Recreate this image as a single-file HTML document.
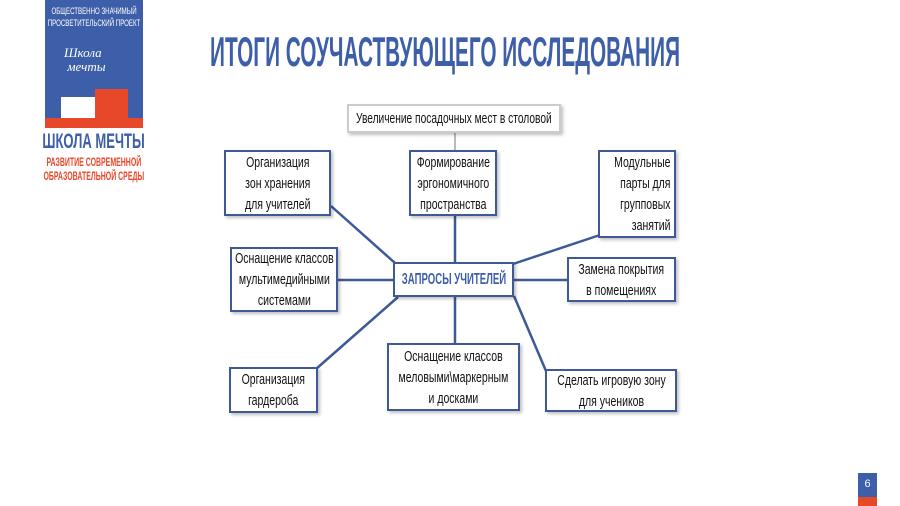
<!DOCTYPE html>
<html><head><meta charset="utf-8"><style>
*{margin:0;padding:0;box-sizing:border-box}
body{width:900px;height:506px;background:#fff;position:relative;overflow:hidden;font-family:"Liberation Sans Narrow","Liberation Sans",sans-serif}
.a{position:absolute}
.c{display:flex;justify-content:center}
.box{position:absolute;border:2px solid #3d5a96;background:#fff;box-shadow:2px 2px 3px rgba(0,0,0,.25);display:flex;align-items:center;justify-content:center;text-align:center;font-size:15px;line-height:21px;color:#111}
.t{display:inline-block;transform:scaleX(.7);white-space:nowrap;flex:none}
</style></head><body>
<div class="a" style="left:45px;top:0;width:98px;height:128px;background:#3d5ea8"></div>
<div class="a" style="left:45px;top:118px;width:98px;height:10px;background:#e8482a"></div>
<div class="a" style="left:61px;top:97px;width:34px;height:21px;background:#fff"></div>
<div class="a" style="left:95px;top:89px;width:33px;height:29px;background:#e8482a"></div>
<div class="a c" style="left:45px;top:5px;width:98px;text-align:center;color:#fff;font-size:9px;line-height:12px"><span class="t" style="transform:scaleX(.68)">ОБЩЕСТВЕННО ЗНАЧИМЫЙ<br>ПРОСВЕТИТЕЛЬСКИЙ ПРОЕКТ</span></div>
<div class="a" style="left:64px;top:46px;color:#fff;font-size:13px;font-style:italic;line-height:14px;font-family:'Liberation Serif',serif">Школа<br>&nbsp;мечты</div>
<div class="a c" style="left:35px;top:131px;width:118px;color:#3d5ea8;font-size:21px;font-weight:bold;line-height:22px;text-align:center"><span class="t" style="transform:scaleX(.62)">ШКОЛА МЕЧТЫ</span></div>
<div class="a c" style="left:34px;top:155px;width:120px;color:#e8482a;font-size:12px;font-weight:bold;line-height:14px;text-align:center"><span class="t" style="transform:scaleX(.58)">РАЗВИТИЕ СОВРЕМЕННОЙ<br>ОБРАЗОВАТЕЛЬНОЙ СРЕДЫ</span></div>
<div class="a" style="left:210px;top:31px;height:42px;color:#3d5ea8;font-size:42px;font-weight:bold;line-height:42px;white-space:nowrap;transform-origin:0 0;transform:scaleX(.495)">ИТОГИ СОУЧАСТВУЮЩЕГО ИССЛЕДОВАНИЯ</div>
<svg class="a" style="left:0;top:0" width="900" height="506">
<line x1="455" y1="133" x2="455" y2="150" stroke="#bbb" stroke-width="2"/>
<g stroke="#3d5a96" stroke-width="2.5">
<line x1="455" y1="216" x2="455" y2="262"/>
<line x1="331" y1="206" x2="395" y2="263"/>
<line x1="338" y1="280" x2="393" y2="280"/>
<line x1="316" y1="369" x2="398" y2="297"/>
<line x1="455" y1="297" x2="455" y2="343"/>
<line x1="514" y1="296" x2="546" y2="371"/>
<line x1="514" y1="280" x2="567" y2="280"/>
<line x1="513" y1="264" x2="600" y2="235"/>
</g></svg>
<div class="box" style="left:347px;top:104px;width:214px;height:29px;border-color:#ccc"><span class="t" style="transform:scaleX(.68)">Увеличение посадочных мест в столовой</span></div>
<div class="box" style="left:409px;top:150px;width:88px;height:66px"><span class="t">Формирование<br>эргономичного<br>пространства</span></div>
<div class="box" style="left:224px;top:150px;width:107px;height:66px"><span class="t">Организация<br>зон хранения<br>для учителей</span></div>
<div class="box" style="left:598px;top:150px;width:78px;height:88px"><span class="t" style="text-align:right;margin-left:10px">Модульные<br>парты для<br>групповых<br>занятий</span></div>
<div class="box" style="left:393px;top:262px;width:121px;height:35px;color:#3d5ea8;font-size:16px;font-weight:bold"><span class="t" style="transform:scaleX(.6)">ЗАПРОСЫ УЧИТЕЛЕЙ</span></div>
<div class="box" style="left:230px;top:247px;width:108px;height:65px"><span class="t">Оснащение классов<br>мультимедийными<br>системами</span></div>
<div class="box" style="left:567px;top:257px;width:109px;height:45px"><span class="t">Замена покрытия<br>в помещениях</span></div>
<div class="box" style="left:229px;top:367px;width:89px;height:46px"><span class="t">Организация<br>гардероба</span></div>
<div class="box" style="left:387px;top:343px;width:133px;height:68px"><span class="t">Оснащение классов<br>меловыми\маркерным<br>и досками</span></div>
<div class="box" style="left:545px;top:369px;width:132px;height:43px"><span class="t">Сделать игровую зону<br>для учеников</span></div>
<div class="a" style="left:858px;top:473px;width:19px;height:24px;background:#3d5ea8;color:#fff;font-size:11px;text-align:center;line-height:22px">6</div>
<div class="a" style="left:858px;top:497px;width:19px;height:9px;background:#e8482a"></div>
</body></html>
